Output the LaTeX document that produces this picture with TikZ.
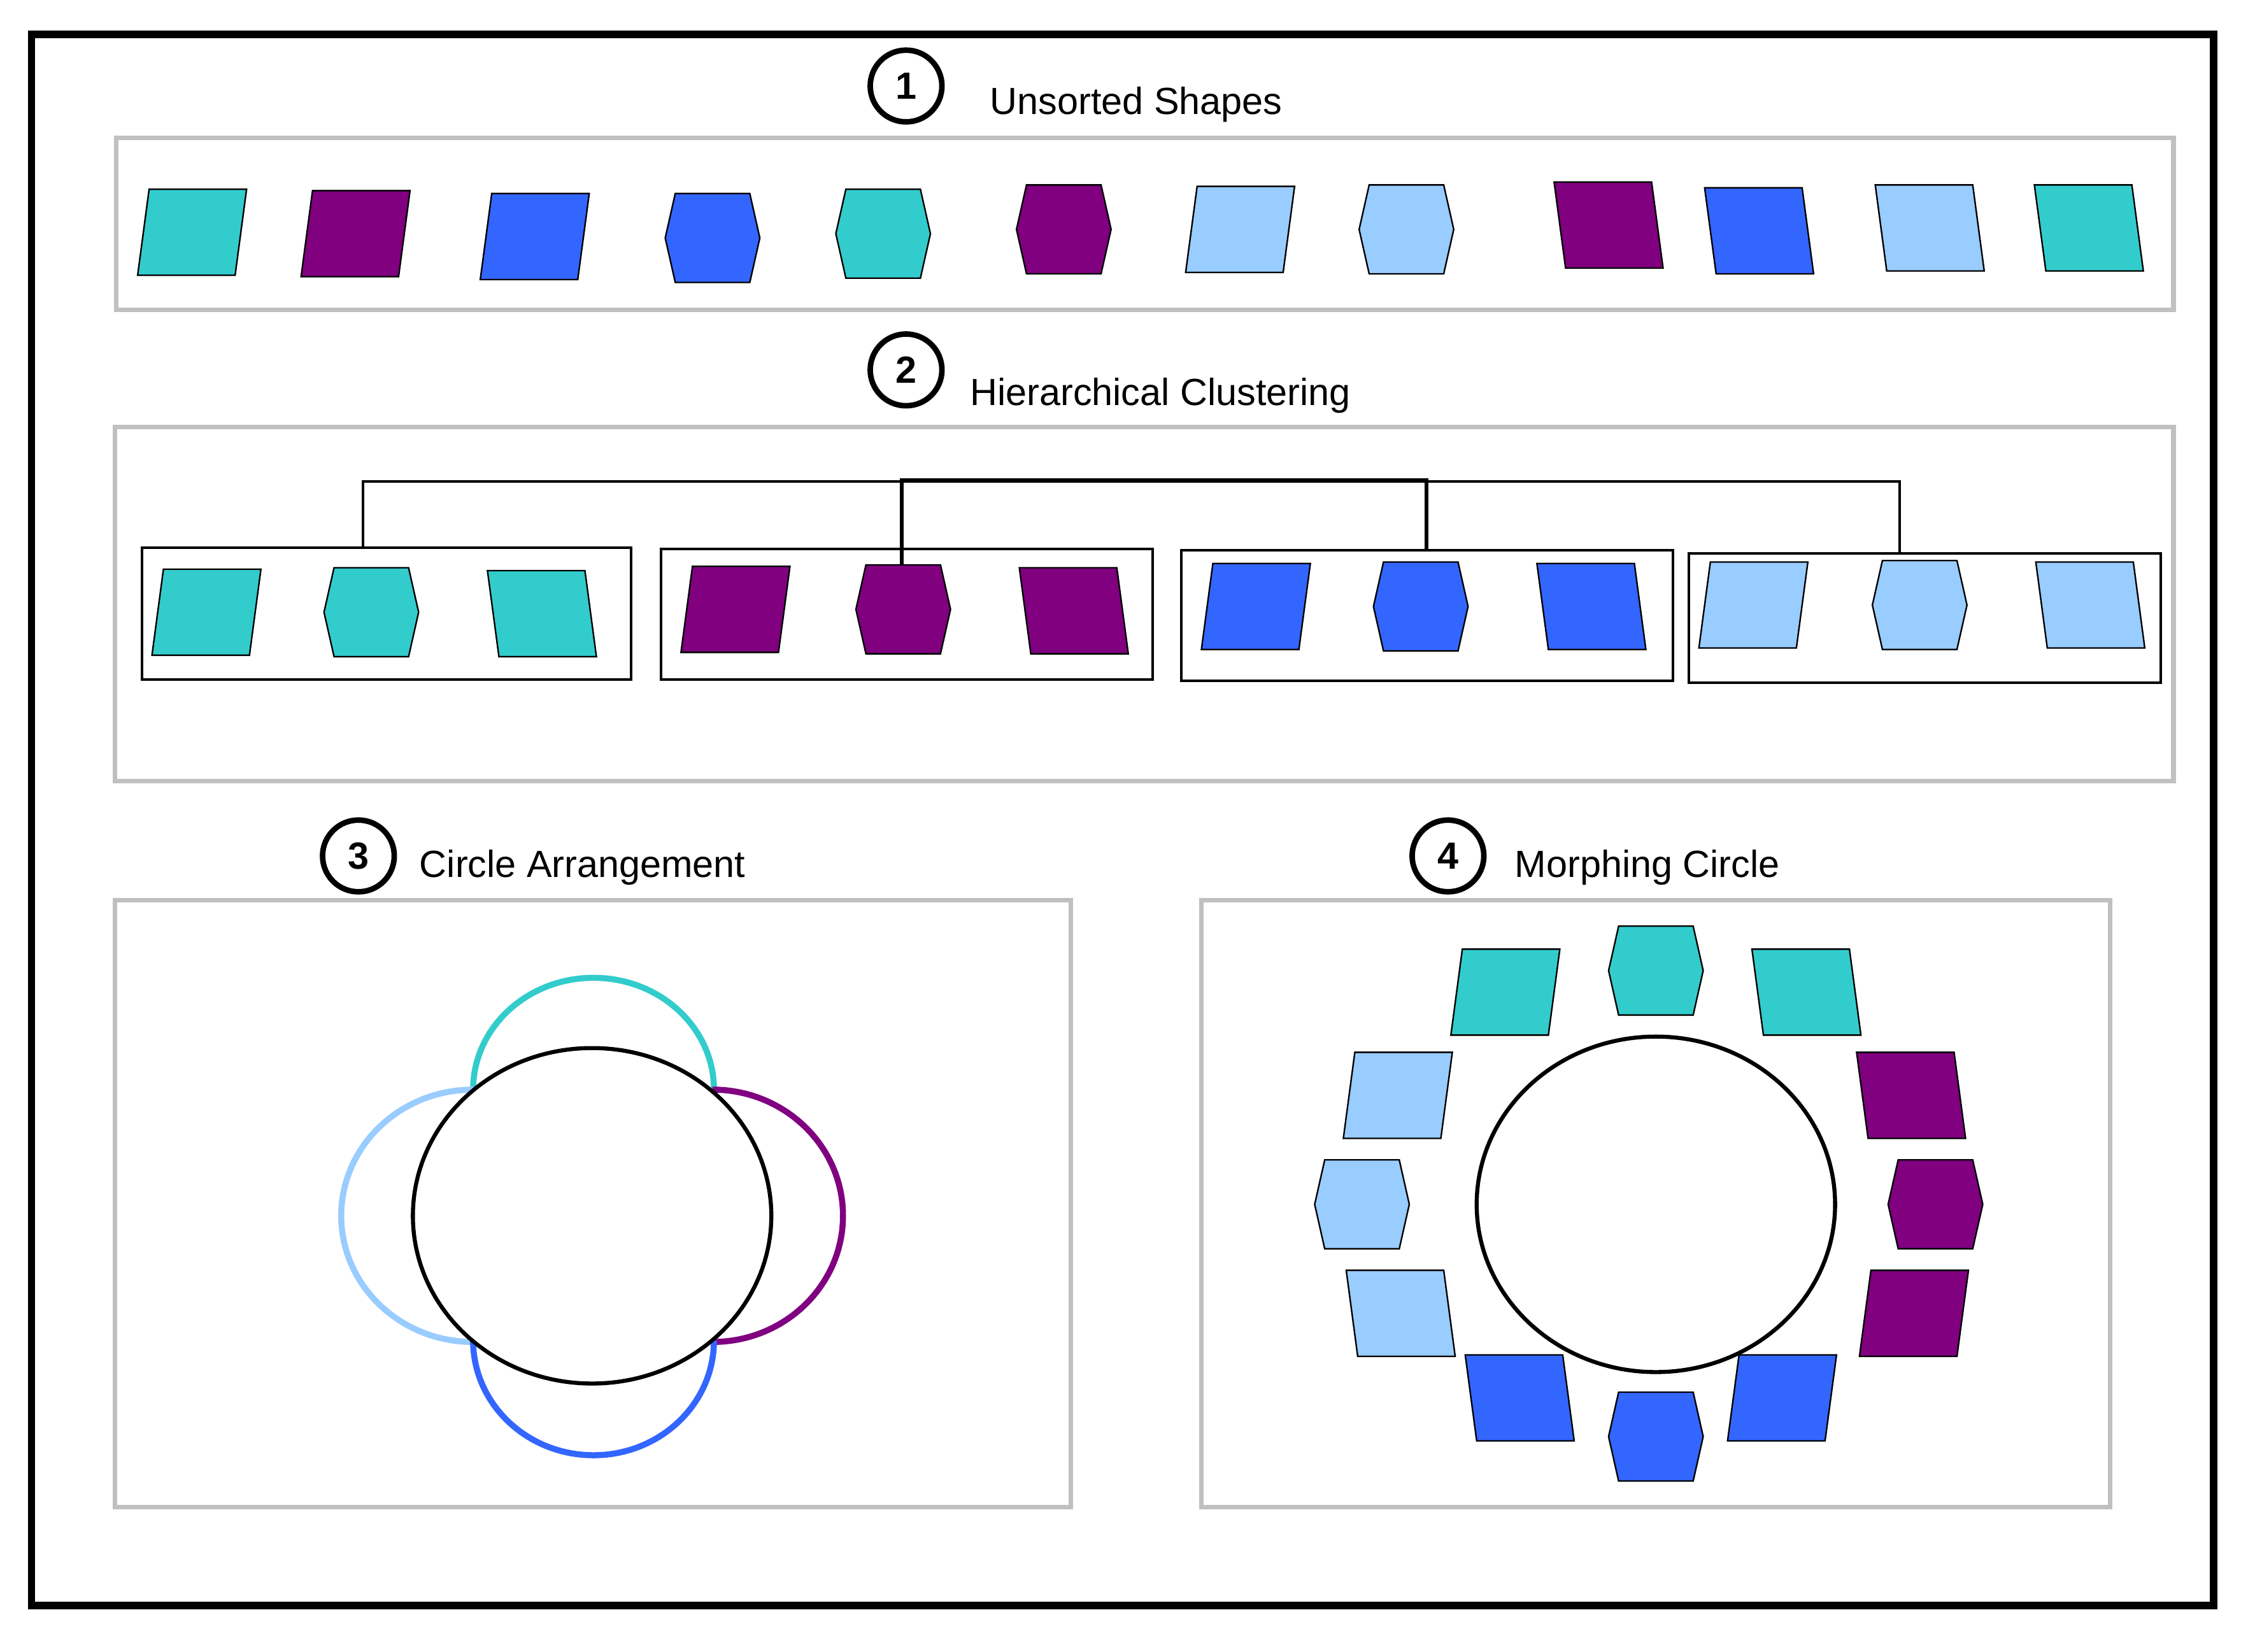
\documentclass[tikz,border=0pt]{standalone}
\usepackage{fontspec}
\setmainfont{Liberation Sans}
\definecolor{cteal}{HTML}{33CCCC}
\definecolor{cpurp}{HTML}{800080}
\definecolor{cblue}{HTML}{3366FF}
\definecolor{clight}{HTML}{99CCFF}
\definecolor{cgray}{HTML}{C0C0C0}
% parallelogram: x y color skew(+ = top shifted right)
\newcommand{\mypara}[4]{\filldraw[fill=#3,draw=black,line width=0.3pt]
 ({#1-34+#4},{#2-30}) -- ({#1+34+#4},{#2-30}) -- ({#1+34-#4},{#2+30}) -- ({#1-34-#4},{#2+30}) -- cycle;}
\newcommand{\myhex}[3]{\filldraw[fill=#3,draw=black,line width=0.3pt]
 ({#1-26},{#2-31}) -- ({#1+26},{#2-31}) -- ({#1+33},{#2}) -- ({#1+26},{#2+31}) -- ({#1-26},{#2+31}) -- ({#1-33},{#2}) -- cycle;}
\tikzset{gbox/.style={draw=cgray,line width=0.9pt},
 ibox/.style={draw=black,line width=0.5pt},
 badge/.style={circle,draw=black,line width=1.1pt,minimum size=0.5cm,inner sep=0pt,font=\fontsize{7.5}{9}\selectfont\bfseries,fill=white},
 lab/.style={anchor=west,font=\fontsize{7.5}{9}\selectfont,inner sep=0pt},
 petal/.style={line width=1.2pt}}
\begin{document}
\begin{tikzpicture}[x=0.01cm,y=-0.01cm]
\useasboundingbox[fill=white] (0,0) rectangle (1568,1152);
\draw[line width=1.5pt] (22,24) rectangle (1544,1120);
% panel 1
\node[badge] (b1) at (632,60) {1};
\node[lab] (t1) at (690,73) {Unsorted Shapes};
\draw[gbox] (81,96) rectangle (1516,216);
\mypara{134}{162}{cteal}{4}
\mypara{248}{163}{cpurp}{4}
\mypara{373}{165}{cblue}{4}
\myhex{497}{166}{cblue}
\myhex{616}{163}{cteal}
\myhex{742}{160}{cpurp}
\mypara{865}{160}{clight}{4}
\myhex{981}{160}{clight}
\mypara{1122}{157}{cpurp}{-4}
\mypara{1227}{161}{cblue}{-4}
\mypara{1346}{159}{clight}{-4}
\mypara{1457}{159}{cteal}{-4}
% panel 2
\node[badge] (b2) at (632,258) {2};
\node[lab] (t2) at (676,276) {Hierarchical Clustering};
\draw[gbox] (80,298) rectangle (1516,545);
\draw[ibox] (99,382) rectangle (440,474);
\draw[ibox] (461,383) rectangle (804,474);
\draw[ibox] (824,384) rectangle (1167,475);
\draw[ibox] (1178,386) rectangle (1507,476);
\draw[line width=0.5pt] (253,382) -- (253,336) -- (1325,336) -- (1325,386);
\draw[line width=0.8pt] (629,395) -- (629,335) -- (995,335) -- (995,384);
\mypara{144}{427}{cteal}{4}
\myhex{259}{427}{cteal}
\mypara{378}{428}{cteal}{-4}
\mypara{513}{425}{cpurp}{4}
\myhex{630}{425}{cpurp}
\mypara{749}{426}{cpurp}{-4}
\mypara{876}{423}{cblue}{4}
\myhex{991}{423}{cblue}
\mypara{1110}{423}{cblue}{-4}
\mypara{1223}{422}{clight}{4}
\myhex{1339}{422}{clight}
\mypara{1458}{422}{clight}{-4}
% panel 3
\node[badge] (b3) at (250,597) {3};
\node[lab] (t3) at (292,605) {Circle Arrangement};
\draw[gbox] (80,628) rectangle (747,1051);
\draw[petal,cteal] (330,760) arc[start angle=180,end angle=0,x radius=84,y radius=-78];
\draw[petal,clight] (330,760) arc[start angle=90,end angle=270,x radius=92,y radius=-88];
\draw[petal,cpurp] (497,760) arc[start angle=90,end angle=-90,x radius=91,y radius=-88];
\draw[petal,cblue] (330,935) arc[start angle=180,end angle=360,x radius=84,y radius=-80];
\draw[line width=0.8pt,fill=white] (413,848) ellipse[x radius=125,y radius=117];
% panel 4
\node[badge] (b4) at (1010,597) {4};
\node[lab] (t4) at (1056,605) {Morphing Circle};
\draw[gbox] (838,628) rectangle (1472,1051);
\draw[line width=0.8pt] (1155,840) ellipse[x radius=125,y radius=117];
\mypara{1050}{692}{cteal}{4}
\myhex{1155}{677}{cteal}
\mypara{1260}{692}{cteal}{-4}
\mypara{1333}{764}{cpurp}{-4}
\myhex{1350}{840}{cpurp}
\mypara{1335}{916}{cpurp}{4}
\mypara{1243}{975}{cblue}{4}
\myhex{1155}{1002}{cblue}
\mypara{1060}{975}{cblue}{-4}
\mypara{977}{916}{clight}{-4}
\myhex{950}{840}{clight}
\mypara{975}{764}{clight}{4}
\end{tikzpicture}
\end{document}
